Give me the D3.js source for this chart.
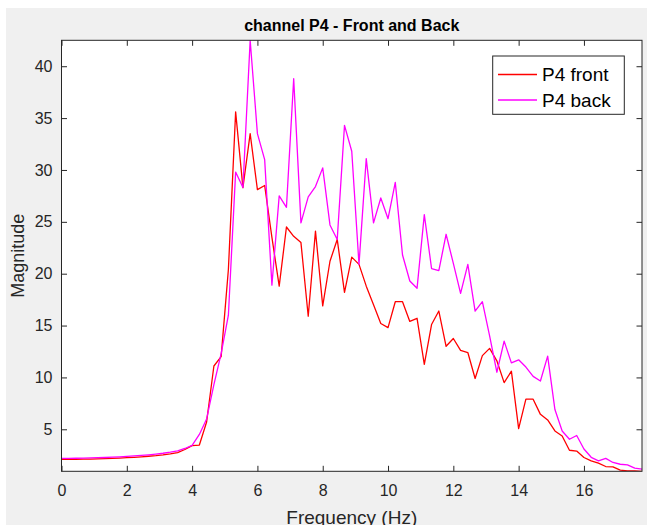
<!DOCTYPE html>
<html>
<head>
<meta charset="utf-8">
<script src="https://cdn.jsdelivr.net/npm/d3@7"></script>
<style>
  html, body { margin: 0; padding: 0; background: #ffffff; }
  svg { display: block; }
  text { font-family: "Liberation Sans", Arial, Helvetica, sans-serif; }
</style>
</head>
<body>
<svg id="chart" width="647" height="525"></svg>
<script>
// ---- data ----
const chartTitle = "channel P4 - Front and Back";
const xLabel = "Frequency (Hz)";
const yLabel = "Magnitude";
const seriesNames = ["P4 front", "P4 back"];
const seriesColors = ["#ff0000", "#ff00ff"];

const frequency = [
  0, 0.222, 0.444, 0.667, 0.889, 1.111, 1.333, 1.556, 1.778, 2.000,
  2.222, 2.444, 2.667, 2.889, 3.111, 3.333, 3.556, 3.778, 4.000, 4.222,
  4.444, 4.667, 4.889, 5.111, 5.333, 5.556, 5.778, 6.000, 6.222, 6.444,
  6.667, 6.889, 7.111, 7.333, 7.556, 7.778, 8.000, 8.222, 8.444, 8.667,
  8.889, 9.111, 9.333, 9.556, 9.778, 10.000, 10.222, 10.444, 10.667, 10.889,
  11.111, 11.333, 11.556, 11.778, 12.000, 12.222, 12.444, 12.667, 12.889, 13.111,
  13.333, 13.556, 13.778, 14.000, 14.222, 14.444, 14.667, 14.889, 15.111, 15.333,
  15.556, 15.778, 16.000, 16.222, 16.444, 16.667, 16.889, 17.111, 17.333, 17.556,
  17.778
];

const p4Front = [
  2.10, 2.10, 2.11, 2.12, 2.13, 2.15, 2.17, 2.19, 2.22, 2.26,
  2.30, 2.35, 2.40, 2.46, 2.54, 2.64, 2.76, 3.05, 3.42, 3.48,
  5.7, 11.1, 12.0, 20.4, 35.6, 28.3, 33.5, 28.1, 28.5, 23.5,
  18.8, 24.5, 23.6, 23.0, 15.9, 24.1, 16.9, 21.2, 23.3, 18.2,
  21.6, 20.9, 18.8, 17.0, 15.2, 14.8, 17.3, 17.3, 15.4, 15.7,
  11.25, 15.1, 16.4, 13.0, 13.75, 12.6, 12.4, 9.9, 12.1, 12.8,
  11.6, 9.5, 10.6, 5.06, 7.9, 7.9, 6.44, 5.9, 4.84, 4.36,
  2.98, 2.9, 2.28, 1.95, 1.73, 1.41, 1.38, 1.06, 1.0, 1.0,
  0.95
];

const p4Back = [
  2.20, 2.20, 2.21, 2.22, 2.24, 2.26, 2.28, 2.31, 2.35, 2.39,
  2.43, 2.48, 2.54, 2.61, 2.69, 2.79, 2.92, 3.15, 3.45, 4.5,
  6.0, 9.3, 12.3, 16.0, 29.8, 28.3, 42.5, 33.5, 31.0, 18.9,
  27.5, 26.4, 38.8, 24.9, 27.4, 28.4, 30.2, 24.7, 23.3, 34.3,
  31.8, 20.9, 31.1, 24.9, 27.3, 25.3, 28.8, 21.8, 19.3, 18.6,
  25.7, 20.5, 20.3, 23.8, 21.0, 18.1, 20.9, 16.4, 17.3, 14.0,
  10.5, 13.5, 11.4, 11.7, 11.0, 10.1, 9.65, 12.05, 6.9, 4.84,
  4.04, 4.4, 3.1, 2.3, 1.95, 2.2, 1.8, 1.63, 1.57, 1.25,
  1.15
];

const xTicks = [0, 2, 4, 6, 8, 10, 12, 14, 16];
const yTicks = [5, 10, 15, 20, 25, 30, 35, 40];

// ---- layout ----
const W = 647, H = 525;
const plot = { left: 61.5, right: 642, top: 40.3, bottom: 471.3 };
const axisColor = "#262626";
const tickLen = 5.5;

const svg = d3.select("#chart");

// figure background
svg.append("rect").attr("x", 6).attr("y", 8).attr("width", W - 6).attr("height", H - 8)
  .attr("fill", "#f0f0f0");

// plot area
svg.append("rect")
  .attr("x", plot.left).attr("y", plot.top)
  .attr("width", plot.right - plot.left).attr("height", plot.bottom - plot.top)
  .attr("fill", "#ffffff");

const x = d3.scaleLinear()
  .domain(d3.extent(frequency))
  .range([plot.left, plot.right]);

const allVals = p4Front.concat(p4Back);
const y = d3.scaleLinear()
  .domain(d3.extent(allVals))
  .range([plot.bottom, plot.top]);

// clip
svg.append("clipPath").attr("id", "clip")
  .append("rect")
  .attr("x", plot.left).attr("y", plot.top)
  .attr("width", plot.right - plot.left).attr("height", plot.bottom - plot.top);

// lines
const series = [p4Front, p4Back];
const line = d3.line()
  .x((d, i) => x(frequency[i]))
  .y(d => y(d));

const lineG = svg.append("g").attr("clip-path", "url(#clip)");
series.forEach((vals, k) => {
  lineG.append("path")
    .datum(vals)
    .attr("d", line)
    .attr("fill", "none")
    .attr("stroke", seriesColors[k])
    .attr("stroke-width", 1.3)
    .attr("stroke-linejoin", "round");
});

// axes
function styleAxis(g, showLabels) {
  g.select(".domain").remove();
  g.selectAll(".tick line").attr("stroke", axisColor).attr("stroke-width", 1);
  g.selectAll(".tick text")
    .attr("fill", axisColor)
    .attr("font-size", "16px")
    .style("display", showLabels ? null : "none");
}

svg.append("g")
  .attr("transform", `translate(0,${plot.bottom})`)
  .call(d3.axisBottom(x).tickValues(xTicks).tickFormat(d3.format("d"))
    .tickSizeInner(-tickLen).tickSizeOuter(0).tickPadding(13))
  .call(g => styleAxis(g, true));

svg.append("g")
  .attr("transform", `translate(0,${plot.top})`)
  .call(d3.axisTop(x).tickValues(xTicks).tickSizeInner(-tickLen).tickSizeOuter(0))
  .call(g => styleAxis(g, false));

svg.append("g")
  .attr("transform", `translate(${plot.left},0)`)
  .call(d3.axisLeft(y).tickValues(yTicks).tickFormat(d3.format("d"))
    .tickSizeInner(-tickLen).tickSizeOuter(0).tickPadding(9))
  .call(g => styleAxis(g, true));

svg.append("g")
  .attr("transform", `translate(${plot.right},0)`)
  .call(d3.axisRight(y).tickValues(yTicks).tickSizeInner(-tickLen).tickSizeOuter(0))
  .call(g => styleAxis(g, false));

// box
svg.append("rect")
  .attr("x", plot.left).attr("y", plot.top)
  .attr("width", plot.right - plot.left).attr("height", plot.bottom - plot.top)
  .attr("fill", "none").attr("stroke", axisColor).attr("stroke-width", 1);

// title
svg.append("text")
  .attr("x", (plot.left + plot.right) / 2).attr("y", 31)
  .attr("text-anchor", "middle")
  .attr("font-size", "16px").attr("font-weight", "bold")
  .attr("fill", "#000")
  .text(chartTitle);

// axis labels
svg.append("text")
  .attr("x", (plot.left + plot.right) / 2).attr("y", 524)
  .attr("text-anchor", "middle")
  .attr("font-size", "19px")
  .attr("fill", axisColor)
  .text(xLabel);

svg.append("text")
  .attr("transform", `translate(24,${(plot.top + plot.bottom) / 2}) rotate(-90)`)
  .attr("text-anchor", "middle")
  .attr("font-size", "18px")
  .attr("fill", axisColor)
  .text(yLabel);

// legend
const leg = { x: 492.7, y: 56, w: 131.6, h: 58.3 };
const legG = svg.append("g");
legG.append("rect")
  .attr("x", leg.x).attr("y", leg.y).attr("width", leg.w).attr("height", leg.h)
  .attr("fill", "#ffffff").attr("stroke", axisColor).attr("stroke-width", 1);
const legRows = [74.5, 100];
seriesNames.forEach((name, k) => {
  legG.append("line")
    .attr("x1", 498).attr("x2", 537)
    .attr("y1", legRows[k]).attr("y2", legRows[k])
    .attr("stroke", seriesColors[k]).attr("stroke-width", 1.3);
  legG.append("text")
    .attr("x", 542).attr("y", legRows[k])
    .attr("dy", "0.35em")
    .attr("font-size", "19px")
    .attr("fill", "#000")
    .text(name);
});
</script>
</body>
</html>
